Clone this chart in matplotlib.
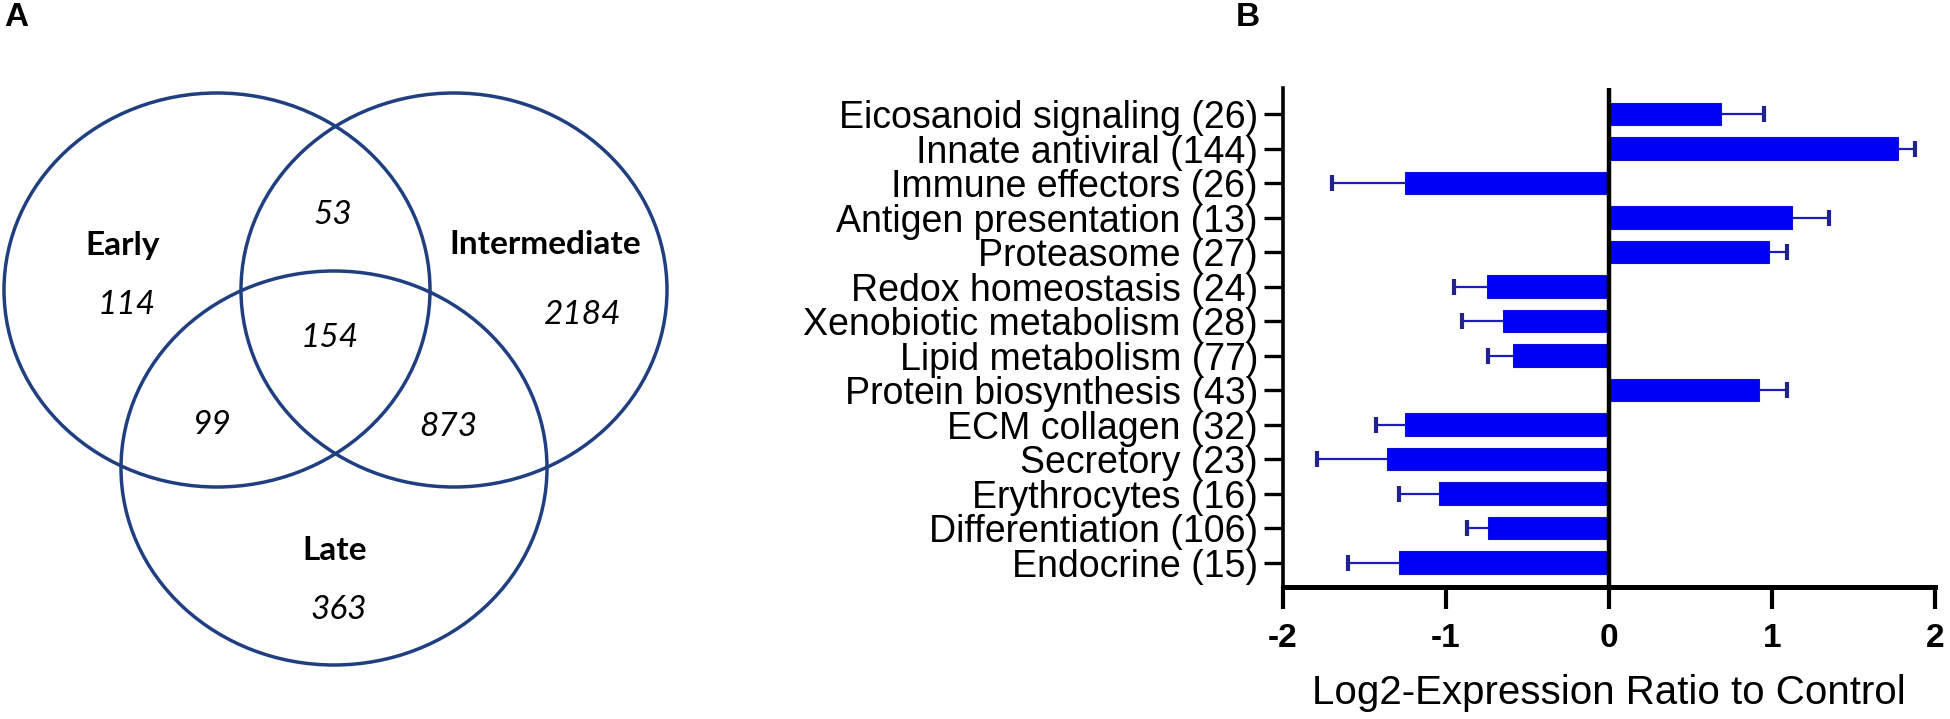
import numpy as np
import matplotlib
matplotlib.use("Agg")
import matplotlib.pyplot as plt
from matplotlib.patches import Ellipse

# ---- data ----
categories = [
    "Eicosanoid signaling (26)", "Innate antiviral (144)", "Immune effectors (26)",
    "Antigen presentation (13)", "Proteasome (27)", "Redox homeostasis (24)",
    "Xenobiotic metabolism (28)", "Lipid metabolism (77)", "Protein biosynthesis (43)",
    "ECM collagen (32)", "Secretory (23)", "Erythrocytes (16)",
    "Differentiation (106)", "Endocrine (15)",
]
log2_ratio = [0.69, 1.77, -1.25, 1.12, 0.98, -0.75, -0.65, -0.59, 0.92,
              -1.25, -1.36, -1.04, -0.74, -1.29]
sem = [0.26, 0.11, 0.45, 0.23, 0.11, 0.20, 0.25, 0.15, 0.17,
       0.18, 0.43, 0.25, 0.13, 0.31]
x_ticks = [-2, -1, 0, 1, 2]

venn_sets = ["Early", "Intermediate", "Late"]
venn_counts = {"100": 114, "010": 2184, "001": 363,
               "110": 53, "101": 99, "011": 873, "111": 154}

W, H = 1950, 719
fig = plt.figure(figsize=(W / 100, H / 100), dpi=100)

# ---- panel A : venn ----
axv = fig.add_axes([0, 0, 760 / W, 1])
axv.set_xlim(0, 760)
axv.set_ylim(H, 0)
axv.axis("off")

venn_col = "#1f3f80"
centers = [(217, 290), (454, 290), (334, 468)]
for c in centers:
    axv.add_patch(Ellipse(c, 2 * 213, 2 * 197, fill=False, ec=venn_col, lw=2.5))

name_pos = {"Early": (123, 245), "Intermediate": (545, 245), "Late": (335, 550)}
for name in venn_sets:
    axv.text(*name_pos[name], name, fontsize=24, fontweight="bold", family="Lato",
             ha="center", va="center")

count_pos = {"100": (127, 305), "010": (582, 315), "001": (339, 610),
             "110": (333, 215), "101": (212, 425), "011": (448, 427), "111": (330, 338)}
for key, n in venn_counts.items():
    axv.text(*count_pos[key], str(n), fontsize=24, fontstyle="italic", family="Lato",
             ha="center", va="center")

fig.text(16 / W, 1 - 17 / H, "A", fontsize=24, fontweight="bold",
         family="Liberation Sans", ha="center", va="center")
fig.text(1248 / W, 1 - 17 / H, "B", fontsize=24, fontweight="bold",
         family="Liberation Sans", ha="center", va="center")

# ---- panel B : bars ----
ax = fig.add_axes([1283 / W, 1 - 587 / H, (1935 - 1283) / W, (587 - 88) / H])
y = np.arange(len(categories))
vals = np.array(log2_ratio)
err = np.array(sem)

ax.barh(y, vals, height=0.64, color="#0000f5", edgecolor="#1010d0", lw=0.8, zorder=2)

# one-sided error bars (away from zero)
ends = vals + np.sign(vals) * err
ax.hlines(y, vals, ends, color="#1c1cb8", lw=1.6, zorder=1)
ax.plot(ends, y, ls="none", marker="|", ms=11, mew=3, color="#22228c", zorder=1)

ax.axvline(0, color="black", lw=3.2, zorder=3)

ax.set_xlim(-2, 2)
ax.set_ylim(13.71, -0.754)
ax.set_xticks(x_ticks)
ax.set_xticklabels([str(t) for t in x_ticks])
ax.set_yticks(y)
ax.set_yticklabels(categories)

for s in ["top", "right"]:
    ax.spines[s].set_visible(False)
ax.spines["left"].set_linewidth(2.6)
ax.spines["bottom"].set_linewidth(3.6)

ax.tick_params(axis="y", length=14, width=2.4, pad=4, labelsize=27)
ax.tick_params(axis="x", length=16, width=3, pad=10, labelsize=24)
for lab in ax.get_yticklabels():
    lab.set_family("Liberation Sans")
for lab in ax.get_xticklabels():
    lab.set_family("Liberation Sans")
    lab.set_fontweight("bold")

ax.set_xlabel("Log2-Expression Ratio to Control", fontsize=29,
              family="Liberation Sans", labelpad=14)

fig.savefig("out.png", dpi=100)
